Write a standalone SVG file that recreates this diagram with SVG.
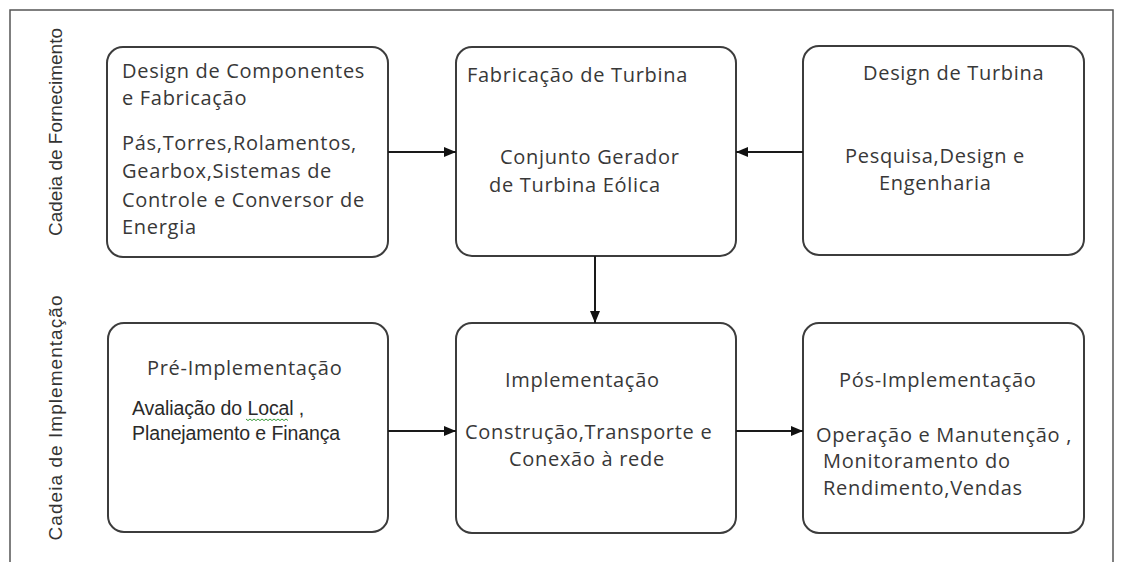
<svg xmlns="http://www.w3.org/2000/svg" width="1122" height="562" viewBox="0 0 1122 562">
<style>
.box{fill:#fff;stroke:#3c3c3c;stroke-width:2}
.t{font-family:"Open Sans","Liberation Sans",sans-serif;font-size:20px;letter-spacing:0.7px;fill:#383838}
.a{font-family:"Liberation Sans",Arial,sans-serif;font-size:19.5px;letter-spacing:-0.1px;fill:#2a2a2a}
.lbl{font-family:"Liberation Sans",Arial,sans-serif;font-size:19px;fill:#333}
.c{stroke:#1a1a1a;stroke-width:2;fill:none;marker-end:url(#ah)}
</style>
<defs>
<marker id="ah" viewBox="0 0 12 10" refX="12" refY="5" markerWidth="12" markerHeight="10" markerUnits="userSpaceOnUse" orient="auto">
<path d="M0,0 L12,5 L0,10 Z" fill="#111"/>
</marker>
</defs>
<rect width="1122" height="562" fill="#fff"/>
<path d="M10,562 V10 H1113 V562" fill="none" stroke="#555" stroke-width="1.5"/>
<g id="labels">
<text class="lbl" transform="translate(62,132) rotate(-90)" text-anchor="middle">Cadeia de Fornecimento</text>
<text class="lbl" transform="translate(62,418) rotate(-90)" text-anchor="middle" textLength="245" lengthAdjust="spacing">Cadeia de Implementação</text>
</g>
<g id="node-componentes">
<rect class="box" x="107" y="47" width="281" height="210" rx="16"/>
<text class="t" x="122" y="78">Design de Componentes</text>
<text class="t" x="122" y="105">e Fabricação</text>
<text class="t" x="122" y="150">Pás,Torres,Rolamentos,</text>
<text class="t" x="122" y="178">Gearbox,Sistemas de</text>
<text class="t" x="122" y="207">Controle e Conversor de</text>
<text class="t" x="122" y="234">Energia</text>
</g>
<g id="node-fabricacao">
<rect class="box" x="456" y="47" width="280" height="209" rx="16"/>
<text class="t" x="467" y="82">Fabricação de Turbina</text>
<text class="t" x="500" y="164">Conjunto Gerador</text>
<text class="t" x="489" y="192">de Turbina Eólica</text>
</g>
<g id="node-design">
<rect class="box" x="803" y="46" width="281" height="209" rx="16"/>
<text class="t" x="863" y="80">Design de Turbina</text>
<text class="t" x="845" y="163">Pesquisa,Design e</text>
<text class="t" x="879" y="190">Engenharia</text>
</g>
<g id="node-pre">
<rect class="box" x="108" y="323" width="280" height="209" rx="16"/>
<text class="t" x="147" y="375">Pré-Implementação</text>
<text class="a" x="132" y="415">Avaliação do Local ,</text>
<path d="M246,419 l2,1.6 l2,-1.6 l2,1.6 l2,-1.6 l2,1.6 l2,-1.6 l2,1.6 l2,-1.6 l2,1.6 l2,-1.6 l2,1.6 l2,-1.6 l2,1.6 l2,-1.6 l2,1.6 l2,-1.6 l2,1.6 l2,-1.6 l2,1.6 l2,-1.6 l2,1.6" fill="none" stroke="#3a9a3a" stroke-width="1"/>
<text class="a" x="132" y="440">Planejamento e Finança</text>
</g>
<g id="node-impl">
<rect class="box" x="456" y="323" width="280" height="210" rx="16"/>
<text class="t" x="505" y="387">Implementação</text>
<text class="t" x="465" y="439">Construção,Transporte e</text>
<text class="t" x="509" y="466">Conexão à rede</text>
</g>
<g id="node-pos">
<rect class="box" x="803" y="323" width="281" height="210" rx="16"/>
<text class="t" x="839" y="387">Pós-Implementação</text>
<text class="t" x="816" y="442">Operação e Manutenção ,</text>
<text class="t" x="823" y="468">Monitoramento do</text>
<text class="t" x="823" y="495">Rendimento,Vendas</text>
</g>
<g id="connectors">
<line class="c" x1="388" y1="152" x2="456" y2="152"/>
<line class="c" x1="803" y1="152" x2="736" y2="152"/>
<line class="c" x1="595" y1="256" x2="595" y2="323"/>
<line class="c" x1="388" y1="431" x2="456" y2="431"/>
<line class="c" x1="736" y1="431" x2="803" y2="431"/>
</g>
</svg>
